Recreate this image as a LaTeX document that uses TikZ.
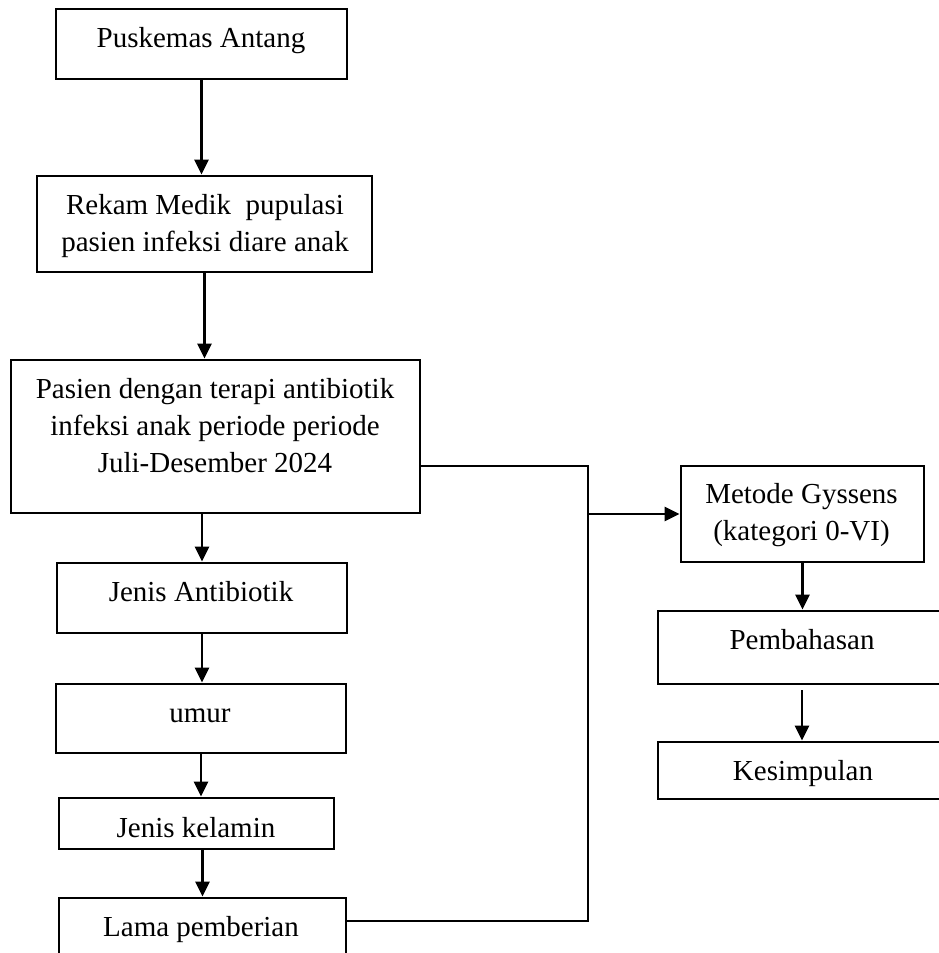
\documentclass[tikz,border=0pt]{standalone}
\usepackage{fontspec}
\setmainfont{Liberation Serif}
\usetikzlibrary{arrows.meta,calc}
\begin{document}
\begin{tikzpicture}[x=1pt,y=-1pt,
  box/.style={draw,line width=2.8pt,rectangle,inner sep=0pt},
  txt/.style={anchor=base,align=center,inner sep=0pt,font=\fontsize{29}{37}\selectfont},
  arr/.style={line width=2.6pt,-{Triangle[length=15pt,width=14pt]}},
  thin/.style={line width=1.5pt}]
\useasboundingbox (0,0) rectangle (939,953);
\clip (0,0) rectangle (939,953);
% boxes
\node[box,minimum width=291pt,minimum height=70pt] (b1) at (201.5,44) {};
\node[box,minimum width=335pt,minimum height=96pt] (b2) at (204.5,224) {};
\node[box,minimum width=409pt,minimum height=153pt] (b3) at (215.5,436.5) {};
\node[box,minimum width=290pt,minimum height=70pt] (b4) at (202,598) {};
\node[box,minimum width=290pt,minimum height=69pt] (b5) at (201,718.5) {};
\node[box,minimum width=275pt,minimum height=51pt] (b6) at (196.5,823.5) {};
\node[box,minimum width=287pt,minimum height=80pt] (b7) at (202.5,938) {};
\node[box,minimum width=243pt,minimum height=96pt] (b8) at (802.5,514) {};
\node[box,minimum width=288pt,minimum height=73pt] (b9) at (802,647.5) {};
\node[box,minimum width=288pt,minimum height=57pt] (b10) at (802,770.5) {};
% texts (anchor = baseline of last line)
\node[txt] (t1) at (201,47) {Puskemas Antang};
\node[txt] (t2) at (205,251) {Rekam Medik\ \ pupulasi\\pasien infeksi diare anak};
\node[txt] (t3) at (215,472) {Pasien dengan terapi antibiotik\\infeksi anak periode periode\\Juli-Desember 2024};
\node[txt] (t4) at (201,601) {Jenis Antibiotik};
\node[txt] (t5) at (200,722) {umur};
\node[txt] (t6) at (196,837) {Jenis kelamin};
\node[txt] (t7) at (201,936) {Lama pemberian};
\node[txt] (t8) at (801.5,540) {Metode Gyssens\\(kategori 0-VI)};
\node[txt] (t9) at (802,649) {Pembahasan};
\node[txt] (t10) at (803,780) {Kesimpulan};
% junctions
\coordinate (J1) at (588,466);
\coordinate (J2) at (588,921);
% arrows
\draw[arr] (b1.south) -- (b1.south |- b2.north);
\draw[arr] (b2.south) -- (b2.south |- b3.north);
\draw[arr] (b4.north |- b3.south) -- (b4.north);
\draw[arr] (b4.south) -- (b4.south |- b5.north);
\draw[arr] (b5.south) -- (b5.south |- b6.north);
\draw[arr] (b7.north |- b6.south) -- (b7.north);
\draw[arr] (b8.south) -- (b8.south |- b9.north);
\draw[arr] ($(b9.south)+(0,5)$) -- (b9.south |- b10.north);
\draw[thin] (b3.east |- J1) -- (J1) -- (J2) -- (b7.east |- J2);
\draw[arr] (J1 |- b8.west) -- (b8.west);
\end{tikzpicture}
\end{document}
